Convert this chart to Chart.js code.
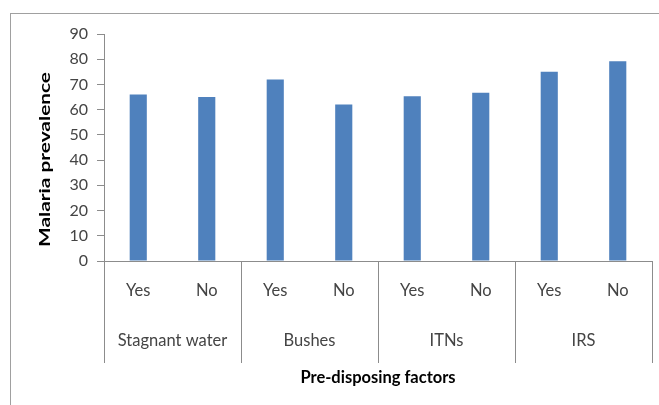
<!DOCTYPE html>
<html>
<head>
<meta charset="utf-8">
<script src="https://cdn.jsdelivr.net/npm/chart.js@4"></script>
<style>
  html, body { margin: 0; padding: 0; background: #ffffff; }
  #wrap { position: relative; width: 659px; height: 405px; overflow: hidden; }
  #frame { position: absolute; left: 10px; top: 13px; width: 700px; height: 450px; border: 1px solid #a0a0a0; }
  canvas { position: absolute; left: 0; top: 0; }
</style>
</head>
<body>
<div id="wrap">
  <div id="frame"></div>
  <canvas id="chart" width="659" height="405"></canvas>
</div>
<script>
// Malaria prevalence by pre-disposing factor (Yes / No responses)
const groups = ['Stagnant water', 'Bushes', 'ITNs', 'IRS'];
const answers = ['Yes', 'No', 'Yes', 'No', 'Yes', 'No', 'Yes', 'No'];
const prevalence = [66, 65, 72, 62, 65.3, 66.7, 75, 79.2];
const yTicks = [0, 10, 20, 30, 40, 50, 60, 70, 80, 90];
const yTitle = 'Malaria prevalence';
const xTitle = 'Pre-disposing factors';

const FONT = 'Lato, "Open Sans", sans-serif';
const AXIS_GREY = '#8c8c8c';
const TEXT = '#444444';

// Second label row: group names and separators spanning both label rows
const groupRow = {
  id: 'groupRow',
  afterDraw(chart) {
    const x = chart.scales.x;
    const ctx = chart.ctx;
    const half = (x.getPixelForValue(1) - x.getPixelForValue(0)) / 2;
    const top = chart.chartArea.bottom;
    const bottom = top + 102;
    ctx.save();
    ctx.strokeStyle = AXIS_GREY;
    ctx.lineWidth = 1;
    for (let g = 0; g <= groups.length; g++) {
      const idx = Math.min(g * 2, answers.length - 1);
      const edge = g * 2 < answers.length ? x.getPixelForValue(idx) - half : x.getPixelForValue(idx) + half;
      const px = Math.round(edge) + 0.5;
      ctx.beginPath();
      ctx.moveTo(px, top);
      ctx.lineTo(px, bottom);
      ctx.stroke();
    }
    ctx.fillStyle = TEXT;
    ctx.font = '16.5px ' + FONT;
    ctx.textAlign = 'center';
    ctx.textBaseline = 'middle';
    groups.forEach((name, g) => {
      const cx = (x.getPixelForValue(g * 2) + x.getPixelForValue(g * 2 + 1)) / 2;
      ctx.fillText(name, cx, top + 80);
    });
    ctx.restore();
  }
};

// Vertical axis title, set in a wide bold face along the axis
const yAxisTitle = {
  id: 'yAxisTitle',
  afterDraw(chart) {
    const area = chart.chartArea;
    const ctx = chart.ctx;
    ctx.save();
    ctx.font = 'bold 16px ' + FONT;
    ctx.fillStyle = '#000000';
    ctx.textAlign = 'center';
    ctx.textBaseline = 'middle';
    const w = ctx.measureText(yTitle).width;
    ctx.translate(45, (area.top + area.bottom) / 2 + 12);
    ctx.rotate(-Math.PI / 2);
    ctx.scale(175 / w, 1);
    ctx.fillText(yTitle, 0, 0);
    ctx.restore();
  }
};

new Chart(document.getElementById('chart'), {
  type: 'bar',
  data: {
    labels: answers,
    datasets: [{
      data: prevalence,
      backgroundColor: '#4f81bd',
      borderWidth: 0,
      barPercentage: 0.25,
      categoryPercentage: 1
    }]
  },
  options: {
    responsive: false,
    animation: false,
    events: [],
    layout: { padding: { left: 0, right: 7, top: 34, bottom: 0 } },
    plugins: { legend: { display: false }, tooltip: { enabled: false } },
    scales: {
      x: {
        offset: true,
        grid: { display: false, drawTicks: false },
        border: { display: true, color: AXIS_GREY, width: 1 },
        ticks: {
          autoSkip: false, maxRotation: 0, minRotation: 0,
          padding: 20, color: TEXT, font: { family: FONT, size: 16.5 }
        },
        title: {
          display: true, text: xTitle, color: '#000000',
          font: { family: FONT, size: 16.5, weight: 'bold' },
          padding: { top: 0, bottom: 17 }
        },
        afterFit(scale) { scale.height = 144; }
      },
      y: {
        min: 0, max: 90,
        afterBuildTicks(scale) { scale.ticks = yTicks.map(v => ({ value: v })); },
        grid: { display: true, drawOnChartArea: false, drawTicks: true, tickLength: 7, color: AXIS_GREY },
        border: { display: true, color: AXIS_GREY, width: 1 },
        ticks: { padding: 9, color: TEXT, font: { family: FONT, size: 16 } },
        title: { display: false },
        afterFit(scale) { scale.width = 104; }
      }
    }
  },
  plugins: [groupRow, yAxisTitle]
});
</script>
</body>
</html>
